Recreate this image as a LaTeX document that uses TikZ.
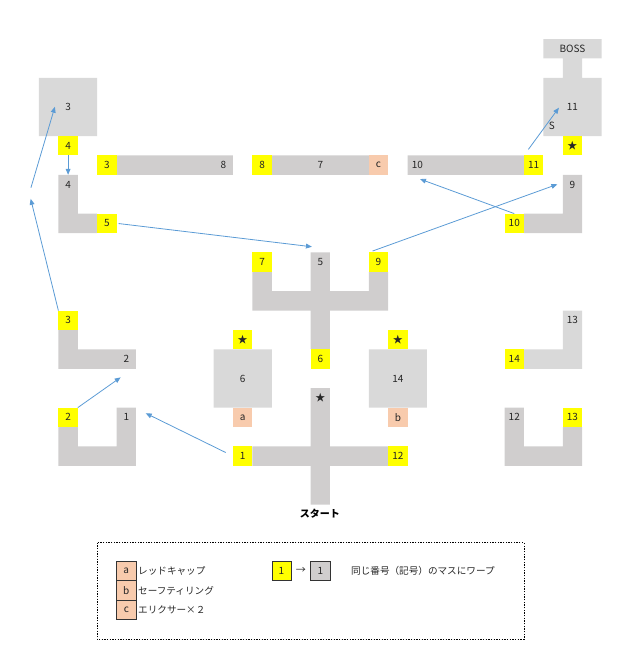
\documentclass[tikz,border=0pt]{standalone}
\usepackage{fontspec}
\setmainfont{Noto Sans CJK JP}
\usetikzlibrary{arrows.meta}
\definecolor{corr}{HTML}{D0CECE}
\definecolor{hall}{HTML}{D9D9D9}
\definecolor{warpy}{HTML}{FFFF00}
\definecolor{dropc}{HTML}{F8CBAD}
\definecolor{arrowc}{HTML}{5B9BD5}
\begin{document}
\begin{tikzpicture}[x=14.55pt,y=-14.55pt,font=\fontsize{7.5}{8}\selectfont,text=black!85,
		cell/.style={minimum size=14.55pt,inner sep=0pt,outer sep=0pt},
		warpcell/.style={cell,fill=warpy},
		dropcell/.style={cell,fill=dropc},
		keycell/.style={cell,draw=black!80,line width=0.4pt},
		keytext/.style={anchor=west,inner sep=0pt,font=\fontsize{7.2}{8}\selectfont},
		>={Triangle[length=4.5pt,width=3.6pt]},
		jump/.style={->,draw=arrowc,line width=0.6pt}]
	\useasboundingbox (-2.0103,-2.0103) rectangle (30.979,31.959);
	\fill[hall] (0,2) rectangle (3,5) (26,0) rectangle (29,1) (27,1) rectangle (28,2) (26,2) rectangle (29,5)
		(9,16) rectangle (12,19) (17,16) rectangle (20,19) (27,14) rectangle (28,17) (25,16) rectangle (28,17);
	\fill[corr] (4,6) rectangle (10,7) (12,6) rectangle (17,7) (19,6) rectangle (25,7)
		(1,7) rectangle (2,10) (1,9) rectangle (3,10) (27,7) rectangle (28,10) (25,9) rectangle (28,10)
		(11,12) rectangle (12,14) (11,13) rectangle (18,14) (14,11) rectangle (15,16) (17,12) rectangle (18,14)
		(1,15) rectangle (2,17) (1,16) rectangle (5,17)
		(1,20) rectangle (2,22) (1,21) rectangle (5,22) (4,19) rectangle (5,22)
		(14,18) rectangle (15,24) (11,21) rectangle (18,22)
		(24,19) rectangle (25,22) (24,21) rectangle (28,22) (27,20) rectangle (28,22);
	\node[cell] (boss) at (27.5,0.5) {BOSS};
	\node[cell] (r11) at (27.5,3.5) {11};
	\node[cell] (s) at (26.44,4.48) {S};
	\node[warpcell] (s11) at (27.5,5.5) {★};
	\node[cell] (r3) at (1.5,3.5) {3};
	\node[warpcell] (w4) at (1.5,5.5) {4};
	\node[warpcell] (w3top) at (3.5,6.5) {3};
	\node[cell] (t8) at (9.5,6.5) {8};
	\node[warpcell] (w8) at (11.5,6.5) {8};
	\node[cell] (t7) at (14.5,6.5) {7};
	\node[dropcell] (dc) at (17.5,6.5) {c};
	\node[cell] (t10) at (19.5,6.5) {10};
	\node[warpcell] (w11) at (25.5,6.5) {11};
	\node[cell] (t4) at (1.5,7.5) {4};
	\node[warpcell] (w5) at (3.5,9.5) {5};
	\node[cell] (t9) at (27.5,7.5) {9};
	\node[warpcell] (w10) at (24.5,9.5) {10};
	\node[warpcell] (w7) at (11.5,11.5) {7};
	\node[cell] (t5) at (14.5,11.5) {5};
	\node[warpcell] (w9) at (17.5,11.5) {9};
	\node[warpcell] (w3) at (1.5,14.5) {3};
	\node[cell] (t2) at (4.5,16.5) {2};
	\node[warpcell] (s6) at (10.5,15.5) {★};
	\node[cell] (r6) at (10.5,17.5) {6};
	\node[dropcell] (da) at (10.5,19.5) {a};
	\node[warpcell] (w6) at (14.5,16.5) {6};
	\node[warpcell] (s14) at (18.5,15.5) {★};
	\node[cell] (r14) at (18.5,17.5) {14};
	\node[dropcell] (db) at (18.5,19.5) {b};
	\node[cell] (t13) at (27.5,14.5) {13};
	\node[warpcell] (w14) at (24.5,16.5) {14};
	\node[warpcell] (w2) at (1.5,19.5) {2};
	\node[cell] (t1) at (4.5,19.5) {1};
	\node[cell] (star) at (14.5,18.5) {★};
	\node[warpcell] (w1) at (10.5,21.5) {1};
	\node[warpcell] (w12) at (18.5,21.5) {12};
	\node[cell] (t12) at (24.5,19.5) {12};
	\node[warpcell] (w13) at (27.5,19.5) {13};
	\node[font=\fontsize{7.5}{8}\selectfont\bfseries,text=black] (start) at (14.48,24.48) {スタート};
	\coordinate (turn) at (-0.5,7.95);
	\coordinate (e3) at (0.82,3.49);
	\coordinate (e2) at (4.21,17.44);
	\coordinate (e1) at (5.5,19.29);
	\coordinate (e5) at (14.07,10.71);
	\coordinate (e9) at (26.72,7.49);
	\coordinate (e10) at (19.64,7.22);
	\coordinate (e11) at (26.8,3.54);
	\draw[jump,shorten >=4.3pt] (w3.north west) to (turn);
	\draw[jump,shorten <=4.3pt] (turn) to (e3);
	\draw[jump] (w4) to (t4);
	\draw[jump,shorten <=1.5pt] (w5.east) to (e5);
	\draw[jump,shorten <=3pt] (w9.north west) to (e9);
	\draw[jump] (w10.north) to (e10);
	\draw[jump,shorten <=5.6pt] (w11.north west) to (e11);
	\draw[jump] (w2.north east) to (e2);
	\draw[jump,shorten <=6pt] (w1.west) to (e1);
	\draw[dash pattern=on 1pt off 1pt,line width=0.5pt] (3,25.96) rectangle (25,30.95);
	\node[keycell,fill=dropc] (ka) at (4.5,27.41) {a};
	\node[keycell,fill=dropc] (kb) at (4.5,28.42) {b};
	\node[keycell,fill=dropc] (kc) at (4.5,29.43) {c};
	\node[keytext] (la) at (5.1,27.41) {レッドキャップ};
	\node[keytext] (lb) at (5.1,28.42) {セーフティリング};
	\node[keytext] (lc) at (5.1,29.43) {エリクサー×２};
	\node[keycell,fill=warpy] (kw) at (12.5,27.41) {1};
	\node[cell] (kto) at (13.5,27.41) {→};
	\node[keycell,fill=corr] (kg) at (14.5,27.41) {1};
	\node[keytext] (lw) at (16.08,27.41) {同じ番号（記号）のマスにワープ};
\end{tikzpicture}
\end{document}
